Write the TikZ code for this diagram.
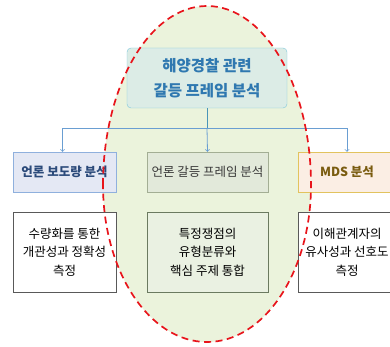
\documentclass[tikz,border=0pt]{standalone}
\usepackage{fontspec}
\setmainfont{Noto Sans CJK KR}
\usetikzlibrary{positioning}

\definecolor{ovalfill}{HTML}{EBF3DC}
\definecolor{ovalline}{HTML}{E8141B}
\definecolor{titlefill}{HTML}{DCECE6}
\definecolor{titleline}{HTML}{7CC6DC}
\definecolor{titletext}{HTML}{2F78B0}
\definecolor{busline}{HTML}{6A9ED2}
\definecolor{newsfill}{HTML}{E4E8F4}
\definecolor{newsline}{HTML}{8FB0DD}
\definecolor{newstext}{HTML}{2B4A7A}
\definecolor{framefill}{HTML}{E2E9DA}
\definecolor{frameline}{HTML}{A3AE94}
\definecolor{frametext}{HTML}{383838}
\definecolor{mdsfill}{HTML}{FBEEE4}
\definecolor{mdsline}{HTML}{E2C35E}
\definecolor{mdstext}{HTML}{7A5C10}
\definecolor{notefill}{HTML}{EAF1E2}
\definecolor{noteline}{HTML}{6B7A60}

\begin{document}
\begin{tikzpicture}[x=1pt,y=-1pt,
    head/.style={draw, minimum height=40pt, inner sep=2pt, font=\fontsize{12.5}{15}\selectfont},
    note/.style={draw=black!65, fill=white, minimum height=80pt, inner sep=2pt, align=center,
        font=\fontsize{12.5}{18.5}\selectfont},
    link/.style={->, busline, thick}]
    \useasboundingbox (0,0) rectangle (390,347);
    \clip (0,0) rectangle (390,347);

    % shaded oval behind the frame column
    \fill[ovalfill] (103,185) arc[start angle=180, end angle=0, x radius=104pt, y radius=179pt]
        arc[start angle=0, end angle=-180, x radius=104pt, y radius=157pt] -- cycle;

    \node[draw=titleline, fill=titlefill, rounded corners=4pt, minimum width=160pt, minimum height=60pt,
        align=center, text=titletext, font=\fontsize{15.5}{25}\selectfont\bfseries]
        (title) at (207,78) {해양경찰 관련\\갈등 프레임 분석};

    \node[head, draw=newsline, fill=newsfill, text=newstext, minimum width=103pt, font=\fontsize{12.5}{15}\selectfont\bfseries]
        (news) at (64.5,172) {언론 보도량 분석};
    \node[head, draw=frameline, fill=framefill, text=frametext, minimum width=121pt]
        (frame) at (207.5,172) {언론 갈등 프레임 분석};
    \node[head, draw=mdsline, fill=mdsfill, text=mdstext, minimum width=98pt, font=\fontsize{12.5}{15}\selectfont\bfseries]
        (mds) at (347,172) {MDS 분석};

    \node[note, minimum width=103pt] (newsnote) at (64.5,252) {수량화를 통한\\개관성과 정확성\\측정};
    \node[note, fill=notefill, draw=noteline, minimum width=121pt] (framenote) at (207.5,252)
        {특정쟁점의\\유형분류와\\핵심 주제 통합};
    \node[note, minimum width=98pt] (mdsnote) at (347,252) {이해관계자의\\유사성과 선호도\\측정};

    % connectors
    \coordinate (bus) at (207,128);
    \draw[busline!70!teal, thick] (title.south) -- (bus);
    \draw[link] (bus) -- (frame.north);
    \draw[link] (bus) -| ([xshift=-2pt]news.north);
    \draw[link] (bus) -| (mds.north);

    % dashed outline on top
    \draw[ovalline, line width=1.7pt, dash pattern=on 7pt off 4.5pt] (103,185)
        arc[start angle=180, end angle=0, x radius=104pt, y radius=179pt]
        arc[start angle=0, end angle=-180, x radius=104pt, y radius=157pt] -- cycle;
\end{tikzpicture}
\end{document}
